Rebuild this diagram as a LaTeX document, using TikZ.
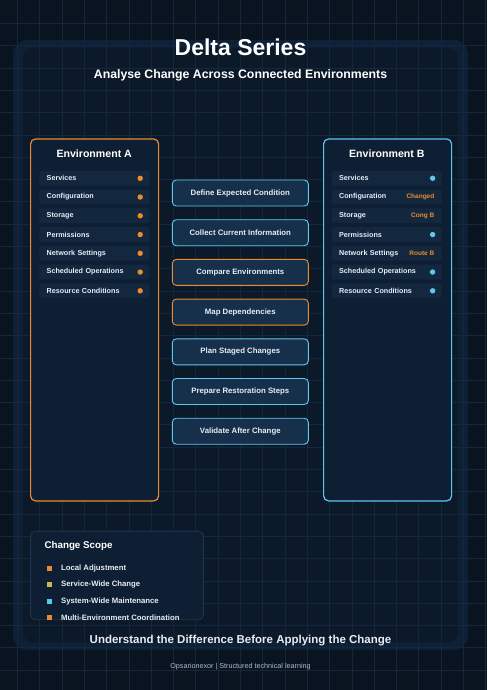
\documentclass[tikz,border=0pt]{standalone}
\usepackage{fontspec}
\setmainfont{Liberation Sans}
\usetikzlibrary{positioning}

\definecolor{bgdark}{HTML}{0A1421}
\definecolor{panelglow}{HTML}{0E2036}
\definecolor{panelfill}{HTML}{0C1929}
\definecolor{gridline}{HTML}{14273C}
\definecolor{envfill}{HTML}{0E1E33}
\definecolor{rowfill}{HTML}{13283F}
\definecolor{stepfill}{HTML}{16304C}
\definecolor{accentorange}{HTML}{E98B2E}
\definecolor{accentcyan}{HTML}{5CC8EE}
\definecolor{accentyellow}{HTML}{CDB84A}
\definecolor{textlight}{HTML}{E6EDF5}
\definecolor{textmuted}{HTML}{AEBBCB}
\definecolor{legendline}{HTML}{1F3652}

\begin{document}
\begin{tikzpicture}[
        x=1pt, y=-1pt,
        node distance=3.65pt,
        envbox/.style={rectangle, draw, rounded corners=5pt, line width=1.2pt, fill=envfill, minimum width=128pt, minimum height=362pt, anchor=north west},
        envtitle/.style={inner sep=0pt, text=white, font=\fontsize{10.6}{12}\selectfont\bfseries},
        rowbox/.style={rectangle, fill=rowfill, rounded corners=2pt, minimum height=14.7pt, inner xsep=7.4pt, inner ysep=0pt, text width=95.2pt, align=left, text=textlight, font=\fontsize{7.2}{8}\selectfont\bfseries},
        dotA/.style={circle, fill=accentorange, inner sep=0pt, minimum size=5.4pt},
        dotB/.style={circle, fill=accentcyan, inner sep=0pt, minimum size=5.4pt},
        tag/.style={inner sep=0pt, anchor=east, text=accentorange, font=\fontsize{6.5}{7}\selectfont\bfseries},
        stepbox/.style={rectangle, draw=accentcyan, rounded corners=4pt, line width=0.9pt, fill=stepfill, minimum width=136pt, minimum height=26pt, text=textlight, font=\fontsize{7.8}{9}\selectfont\bfseries},
        hotstep/.style={stepbox, draw=accentorange},
        swatch/.style={rectangle, inner sep=0pt, minimum size=5pt},
        legendtext/.style={inner sep=0pt, anchor=west, text=textlight, font=\fontsize{7.75}{9}\selectfont\bfseries}
    ]

        \useasboundingbox (0,0) rectangle (487,690);
        \fill[bgdark] (0,0) rectangle (487,690);

        % panel with glow
        \fill[panelglow, rounded corners=14pt] (13,40) rectangle (468,650);
        \fill[panelfill, rounded corners=10pt] (23,48) rectangle (458,642);

        % grid
        \foreach \gx in {0,...,21}
            \draw[gridline, line width=0.5pt] ({17.3+22.3*\gx},0) -- ({17.3+22.3*\gx},690);
        \foreach \gy in {0,...,29}
            \draw[gridline, line width=0.5pt] (0,{23.3+22.3*\gy}) -- (487,{23.3+22.3*\gy});

        % titles
        \node[inner sep=0pt, text=white, font=\fontsize{23}{27}\selectfont\bfseries] (title) at (240.5,47.7) {Delta Series};
        \node[inner sep=0pt, text=white, font=\fontsize{12.3}{14}\selectfont\bfseries] (subtitle) at (240.5,75.7) {Analyse Change Across Connected Environments};

        % environment A
        \node[envbox, draw=accentorange] (envA) at (30,138.3) {};
        \node[envtitle] (envAtitle) at (94.2,153.3) {Environment A};
        \node[rowbox] (rowA1) at (94.3,178.3) {Services};
        \node[rowbox, below=of rowA1] (rowA2) {Configuration};
        \node[rowbox, below=of rowA2] (rowA3) {Storage};
        \node[rowbox, below=of rowA3] (rowA4) {Permissions};
        \node[rowbox, below=of rowA4] (rowA5) {Network Settings};
        \node[rowbox, below=of rowA5] (rowA6) {Scheduled Operations};
        \node[rowbox, below=of rowA6] (rowA7) {Resource Conditions};
        \node[dotA] (dotA1) at ([xshift=-9.3pt]rowA1.east) {};
        \node[dotA] (dotA2) at ([xshift=-9.3pt]rowA2.east) {};
        \node[dotA] (dotA3) at ([xshift=-9.3pt]rowA3.east) {};
        \node[dotA] (dotA4) at ([xshift=-9.3pt]rowA4.east) {};
        \node[dotA] (dotA5) at ([xshift=-9.3pt]rowA5.east) {};
        \node[dotA] (dotA6) at ([xshift=-9.3pt]rowA6.east) {};
        \node[dotA] (dotA7) at ([xshift=-9.3pt]rowA7.east) {};

        % environment B
        \node[envbox, draw=accentcyan] (envB) at (323,138.3) {};
        \node[envtitle] (envBtitle) at (386.8,153.3) {Environment B};
        \node[rowbox] (rowB1) at (386.7,178.3) {Services};
        \node[rowbox, below=of rowB1] (rowB2) {Configuration};
        \node[rowbox, below=of rowB2] (rowB3) {Storage};
        \node[rowbox, below=of rowB3] (rowB4) {Permissions};
        \node[rowbox, below=of rowB4] (rowB5) {Network Settings};
        \node[rowbox, below=of rowB5] (rowB6) {Scheduled Operations};
        \node[rowbox, below=of rowB6] (rowB7) {Resource Conditions};
        \node[dotB] (dotB1) at ([xshift=-9.3pt]rowB1.east) {};
        \node[tag] (tagB2) at ([xshift=-7.4pt]rowB2.east) {Changed};
        \node[tag] (tagB3) at ([xshift=-7.4pt]rowB3.east) {Cong B};
        \node[dotB] (dotB4) at ([xshift=-9.3pt]rowB4.east) {};
        \node[tag] (tagB5) at ([xshift=-7.4pt]rowB5.east) {Route B};
        \node[dotB] (dotB6) at ([xshift=-9.3pt]rowB6.east) {};
        \node[dotB] (dotB7) at ([xshift=-9.3pt]rowB7.east) {};

        % steps
        \node[stepbox] (define) at (240.3,193) {Define Expected Condition};
        \node[stepbox, below=12.8pt of define] (collect) {Collect Current Information};
        \node[hotstep, below=12.8pt of collect] (compare) {Compare Environments};
        \node[hotstep, below=12.8pt of compare] (mapdeps) {Map Dependencies};
        \node[stepbox, below=12.8pt of mapdeps] (plan) {Plan Staged Changes};
        \node[stepbox, below=12.8pt of plan] (restore) {Prepare Restoration Steps};
        \node[stepbox, below=12.8pt of restore] (validate) {Validate After Change};

        % legend
        \node[rectangle, draw=legendline, line width=0.8pt, fill=envfill, rounded corners=5pt, minimum width=173pt, minimum height=88.6pt, anchor=north west] (legend) at (30,530.7) {};
        \node[inner sep=0pt, anchor=west, text=white, font=\fontsize{9.8}{11}\selectfont\bfseries] (legendtitle) at (44.3,545.7) {Change Scope};
        \node[swatch, fill=accentorange] (sq1) at (49,568.3) {};
        \node[swatch, fill=accentyellow] (sq2) at (49,584.3) {};
        \node[swatch, fill=accentcyan] (sq3) at (49,601) {};
        \node[swatch, fill=accentorange] (sq4) at (49,617.3) {};
        \node[legendtext, right=9.2pt of sq1] (local) {Local Adjustment};
        \node[legendtext, right=9.2pt of sq2] (servicewide) {Service-Wide Change};
        \node[legendtext, right=9.2pt of sq3] (systemwide) {System-Wide Maintenance};
        \node[legendtext, right=9.2pt of sq4] (multienv) {Multi-Environment Coordination};

        % footer
        \node[inner sep=0pt, text=textlight, font=\fontsize{11.5}{13}\selectfont\bfseries] (closing) at (240.5,641) {Understand the Difference Before Applying the Change};
        \node[inner sep=0pt, text=textmuted, font=\fontsize{7.2}{8}\selectfont] (credit) at (240.5,666.7) {Opsarionexor | Structured technical learning};

    \end{tikzpicture}
\end{document}
